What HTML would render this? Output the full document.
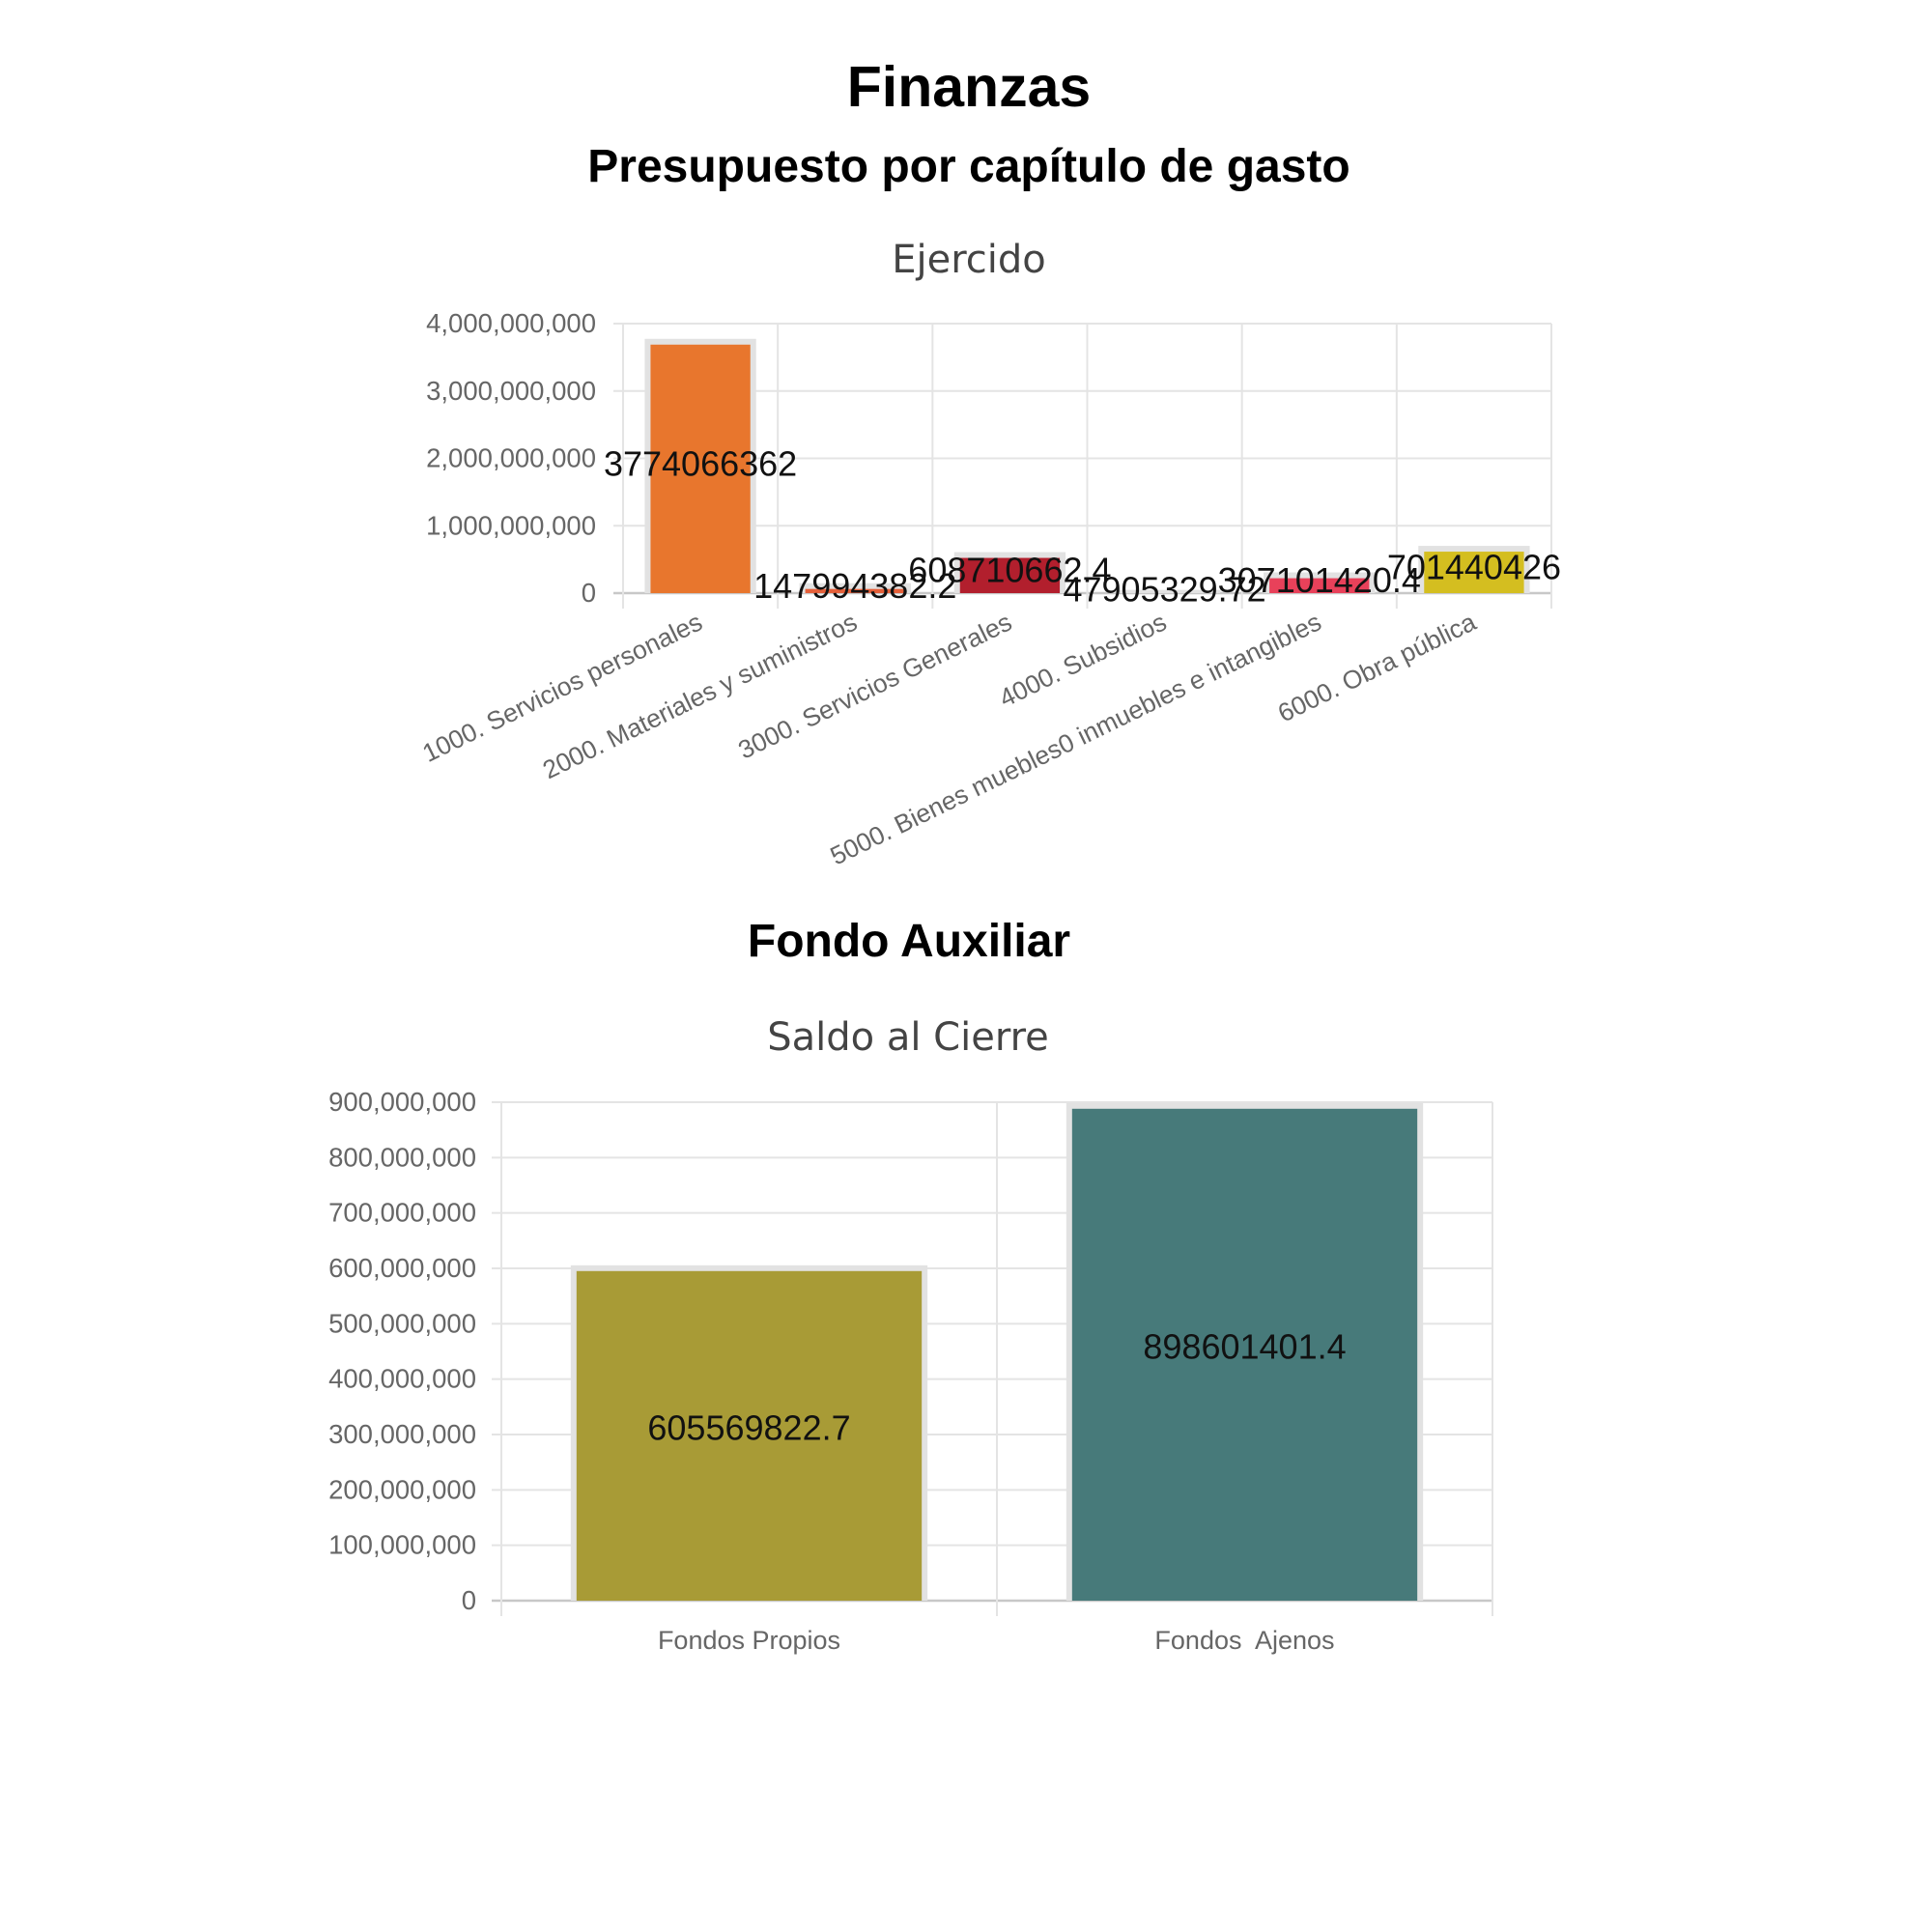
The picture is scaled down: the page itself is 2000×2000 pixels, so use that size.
<!DOCTYPE html>
<html><head><meta charset="utf-8"><style>
html,body{margin:0;padding:0;background:#fff;}
svg{display:block;}
</style></head><body>
<svg id="root" width="2000" height="2000" viewBox="0 0 2000 2000" xmlns="http://www.w3.org/2000/svg">
<rect width="2000" height="2000" fill="#fff"/>
<text x="1003" y="110" text-anchor="middle" font-family="Liberation Sans, sans-serif" font-weight="bold" font-size="59" fill="#000">Finanzas</text>
<text x="1003" y="188" text-anchor="middle" font-family="Liberation Sans, sans-serif" font-weight="bold" font-size="48" fill="#000">Presupuesto por capítulo de gasto</text>
<text x="1003" y="282" text-anchor="middle" font-family="DejaVu Sans, sans-serif" font-size="40" fill="#444">Ejercido</text>
<text x="941" y="990" text-anchor="middle" font-family="Liberation Sans, sans-serif" font-weight="bold" font-size="48" fill="#000">Fondo Auxiliar</text>
<text x="940" y="1087" text-anchor="middle" font-family="DejaVu Sans, sans-serif" font-size="40" fill="#444">Saldo al Cierre</text>
<g id="chart1"></g>
<g id="chart2"></g>
</svg>
<script>
const cats1 = ["1000. Servicios personales","2000. Materiales y suministros","3000. Servicios Generales","4000. Subsidios","5000. Bienes muebles0 inmuebles e intangibles","6000. Obra pública"];
const vals1 = [3774066362,147994382.2,608710662.4,47905329.72,307101420.4,701440426];
const labels1 = ["3774066362","147994382.2","608710662.4","47905329.72","307101420.4","701440426"];
const colors1 = ["#e8762d","#e5603a","#b21f2d","#f2c4c4","#e8415a","#d4be20"];
const ticks1 = [0,1000000000,2000000000,3000000000,4000000000];
const tickLabels1 = ["0","1,000,000,000","2,000,000,000","3,000,000,000","4,000,000,000"];

const cats2 = ["Fondos Propios","Fondos\u00a0 Ajenos"];
const vals2 = [605569822.7,898601401.4];
const labels2 = ["605569822.7","898601401.4"];
const colors2 = ["#a89b36","#477a7a"];
const ticks2 = [0,100000000,200000000,300000000,400000000,500000000,600000000,700000000,800000000,900000000];
const tickLabels2 = ["0","100,000,000","200,000,000","300,000,000","400,000,000","500,000,000","600,000,000","700,000,000","800,000,000","900,000,000"];

const NS="http://www.w3.org/2000/svg";
function mk(parent,tag,attrs){const e=document.createElementNS(NS,tag);for(const k in attrs)e.setAttribute(k,attrs[k]);parent.appendChild(e);return e;}

function drawChart(g,cfg){
  const {x0,x1,yZero,yTop,maxV,cats,vals,labels,colors,ticks,tickLabels,rotate,catFont,valFont,tickFont,border,tickGap,valDy}=cfg;
  const n=cats.length, cw=(x1-x0)/n;
  const ys=v=>yZero-(v/maxV)*(yZero-yTop);
  const xc=i=>x0+cw*(i+0.5);
  ticks.forEach((t,i)=>{
    const y=ys(t);
    const l=mk(g,'line',{x1:x0-10,x2:x1,y1:y,y2:y,stroke:i===0?'#c8c8c8':'#e4e4e4','stroke-width':i===0?2.5:2});
    
    
    const tx=mk(g,'text',{x:x0-tickGap,y:y+9,'text-anchor':'end','font-family':'Liberation Sans, sans-serif','font-size':tickFont,fill:'#666'});
    tx.textContent=tickLabels[i];
    
    
  });
  for(let i=0;i<=n;i++){
    const x=x0+cw*i;
    const l=mk(g,'line',{x1:x,x2:x,y1:yTop,y2:yZero+16,stroke:'#e4e4e4','stroke-width':2});
    
    
  }
  const bw=cw*0.72;
  vals.forEach((v,i)=>{
    const cx=xc(i), yt=ys(v);
    const outer=mk(g,'rect',{x:cx-bw/2,y:yt,width:bw,height:Math.max(0,yZero-yt),fill:'#e2e2e2'});
    
    
    const h=Math.max(0,yZero-yt-border);
    const r=mk(g,'rect',{x:cx-bw/2+border,y:yt+border,width:bw-2*border,height:h,fill:colors[i]});
    
    
  });
  vals.forEach((v,i)=>{
    const cx=xc(i), yt=ys(v);
    const t=mk(g,'text',{x:cx,y:(yt+yZero)/2+valFont*0.36+valDy,'text-anchor':'middle','font-family':'Liberation Sans, sans-serif','font-size':valFont,fill:'#111'});
    t.textContent=labels[i];
    
    
  });
  cats.forEach((c,i)=>{
    const cx=xc(i);
    let t;
    if(rotate){
      const ax=cx+4, ay=yZero+36;
      t=mk(g,'text',{x:ax,y:ay,'text-anchor':'end','font-family':'Liberation Sans, sans-serif','font-size':catFont,fill:'#666',transform:`rotate(${rotate} ${ax} ${ay})`});
    } else {
      t=mk(g,'text',{x:cx,y:yZero+50,'text-anchor':'middle','font-family':'Liberation Sans, sans-serif','font-size':catFont,fill:'#666'});
    }
    t.textContent=c;
    
    
  });
}
drawChart(document.getElementById('chart1'),{x0:645,x1:1606,yZero:614,yTop:335,maxV:4000000000,cats:cats1,vals:vals1,labels:labels1,colors:colors1,ticks:ticks1,tickLabels:tickLabels1,rotate:-26,catFont:26.5,valFont:36,tickFont:27.5,border:6,tickGap:28,valDy:-3});
drawChart(document.getElementById('chart2'),{x0:519,x1:1545,yZero:1657,yTop:1141,maxV:900000000,cats:cats2,vals:vals2,labels:labels2,colors:colors2,ticks:ticks2,tickLabels:tickLabels2,rotate:0,catFont:27,valFont:36,tickFont:27.5,border:6,tickGap:26,valDy:-6});
</script>
</body></html>
